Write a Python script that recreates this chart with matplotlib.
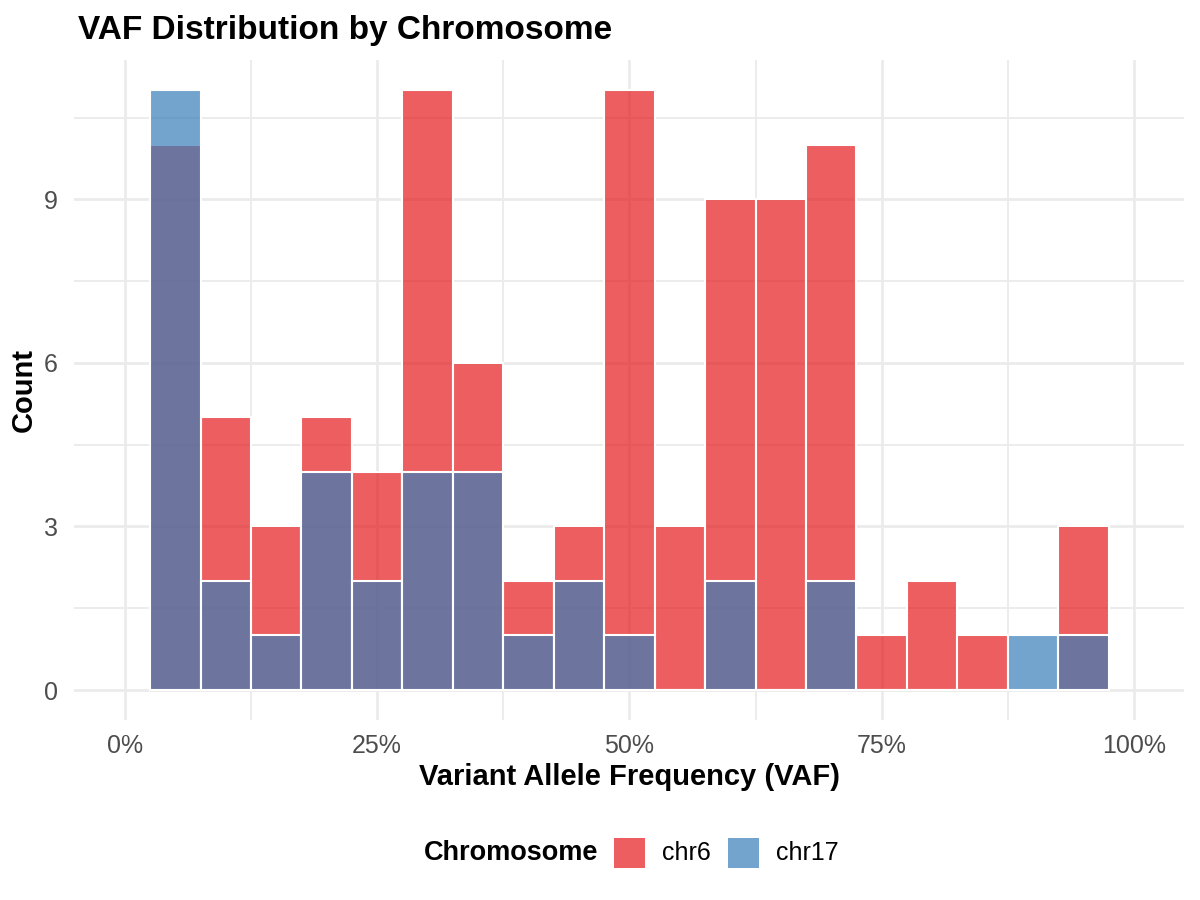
import matplotlib.pyplot as plt
import matplotlib.colors as mcolors
from matplotlib.patches import Rectangle
from matplotlib.ticker import FixedLocator, FuncFormatter

plt.rcParams['font.family'] = ['Liberation Sans', 'DejaVu Sans']

# bin centres (VAF) and counts per chromosome
bin_centers = [0.05, 0.10, 0.15, 0.20, 0.25, 0.30, 0.35, 0.40, 0.45, 0.50,
               0.55, 0.60, 0.65, 0.70, 0.75, 0.80, 0.85, 0.90, 0.95]
chr6_counts = [10, 5, 3, 5, 4, 11, 6, 2, 3, 11, 3, 9, 9, 10, 1, 2, 1, 0, 3]
chr17_counts = [11, 2, 1, 4, 2, 4, 4, 1, 2, 1, 0, 2, 0, 2, 0, 0, 0, 1, 1]
bin_width = 0.05

series = ["chr6", "chr17"]
colors = {"chr6": "#E41A1C", "chr17": "#377EB8"}
alpha = 0.7

fig = plt.figure(figsize=(12, 9), dpi=100)
ax = fig.add_axes([0.062, 0.2, 0.925, 0.733])

for name, counts in zip(series, [chr6_counts, chr17_counts]):
    fc = mcolors.to_rgb(colors[name]) + (alpha,)
    ax.bar(bin_centers, counts, width=bin_width, facecolor=fc,
           edgecolor="white", linewidth=1.5, zorder=2)

ax.set_xlim(-0.05, 1.05)
ax.set_ylim(-0.55, 11.55)

ax.xaxis.set_major_locator(FixedLocator([0, 0.25, 0.5, 0.75, 1.0]))
ax.xaxis.set_minor_locator(FixedLocator([0.125, 0.375, 0.625, 0.875]))
ax.yaxis.set_major_locator(FixedLocator([0, 3, 6, 9]))
ax.yaxis.set_minor_locator(FixedLocator([1.5, 4.5, 7.5, 10.5]))
ax.xaxis.set_major_formatter(FuncFormatter(lambda v, p: f"{v*100:.0f}%"))

ax.grid(which="major", color="#EBEBEB", linewidth=2.0, zorder=0)
ax.grid(which="minor", color="#EBEBEB", linewidth=1.3, zorder=0)
ax.set_axisbelow(True)
for s in ax.spines.values():
    s.set_visible(False)
ax.tick_params(which="both", length=0, labelsize=18, labelcolor="#4D4D4D")
ax.tick_params(axis="x", pad=10)
ax.tick_params(axis="y", pad=12)

ax.set_xlabel("Variant Allele Frequency (VAF)", fontsize=21, fontweight="bold", labelpad=4)
ax.set_ylabel("Count", fontsize=21, fontweight="bold", labelpad=4)
fig.text(0.065, 0.966, "VAF Distribution by Chromosome", fontsize=24,
         fontweight="bold", ha="left", va="center")

# legend at the bottom, title to the left of the keys
ly = 1 - 853 / 900
fig.text(424 / 1200, ly, "Chromosome", fontsize=19.5, fontweight="bold",
         ha="left", va="center")
key_x = [614, 728]
for name, kx in zip(series, key_x):
    fc = mcolors.to_rgb(colors[name]) + (alpha,)
    fig.add_artist(Rectangle((kx / 1200, ly - 15 / 900), 31 / 1200, 30 / 900,
                             transform=fig.transFigure, facecolor=fc,
                             edgecolor="none"))
    fig.text((kx + 48) / 1200, ly, name, fontsize=18, ha="left", va="center")

fig.savefig("out.png", dpi=100)
